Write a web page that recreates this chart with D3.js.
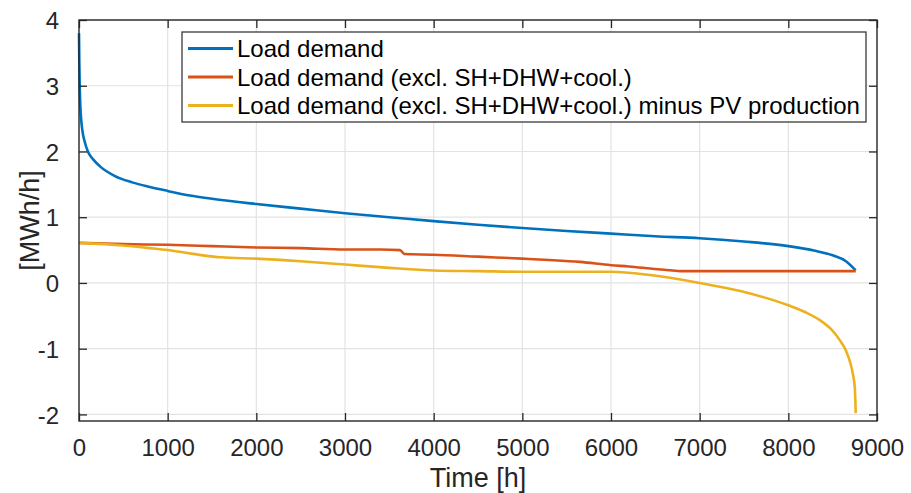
<!DOCTYPE html>
<html>
<head>
<meta charset="utf-8">
<script src="https://cdn.jsdelivr.net/npm/d3@7"></script>
<style>
  html, body { margin: 0; padding: 0; background: #fff; }
  svg { display: block; font-family: "Liberation Sans", Arial, Helvetica, sans-serif; }
</style>
</head>
<body>
<svg id="chart" width="911" height="493"></svg>
<script>
// Duration curves (sorted hourly values), MWh/h
const loadHours = [0, 3, 8, 15, 22, 40, 60, 100, 160, 240, 400, 600, 800, 1000, 1250, 1500, 2000, 2500, 3000, 3500, 4000, 4500, 5000, 5500, 6000, 6500, 7000, 7500, 8000, 8300, 8500, 8650, 8760];
const loadValues = [3.8, 3.4, 3.0, 2.7, 2.53, 2.3, 2.17, 2.0, 1.88, 1.77, 1.63, 1.53, 1.46, 1.40, 1.33, 1.28, 1.20, 1.13, 1.06, 1.00, 0.94, 0.885, 0.835, 0.79, 0.75, 0.71, 0.68, 0.63, 0.56, 0.49, 0.42, 0.33, 0.19];

const exclHours = [0, 500, 1000, 1500, 2000, 2500, 3000, 3400, 3620, 3670, 4000, 4500, 5000, 5300, 5650, 6000, 6200, 6440, 6600, 6780, 7000, 8000, 8760];
const exclValues = [0.61, 0.59, 0.58, 0.56, 0.54, 0.53, 0.51, 0.51, 0.50, 0.44, 0.43, 0.40, 0.37, 0.35, 0.32, 0.27, 0.25, 0.22, 0.20, 0.18, 0.18, 0.18, 0.18];

const netHours = [0, 500, 800, 1000, 1200, 1400, 1600, 2000, 2500, 3000, 3500, 4000, 4500, 5000, 5500, 6000, 6440, 7000, 7570, 8000, 8200, 8360, 8480, 8580, 8650, 8700, 8730, 8750, 8760];
const netValues = [0.61, 0.57, 0.53, 0.50, 0.46, 0.42, 0.39, 0.37, 0.33, 0.28, 0.23, 0.19, 0.18, 0.17, 0.17, 0.17, 0.12, 0.0, -0.16, -0.34, -0.45, -0.57, -0.70, -0.87, -1.03, -1.22, -1.40, -1.60, -1.98];

const seriesNames = ["Load demand", "Load demand (excl. SH+DHW+cool.)", "Load demand (excl. SH+DHW+cool.) minus PV production"];
const seriesColors = ["#0072BD", "#D95319", "#EDB120"];

const xTicks = [0, 1000, 2000, 3000, 4000, 5000, 6000, 7000, 8000, 9000];
const yTicks = [-2, -1, 0, 1, 2, 3, 4];
const xLabel = "Time [h]";
const yLabel = "[MWh/h]";

const series = [
  { name: seriesNames[0], color: seriesColors[0], pts: d3.zip(loadHours, loadValues) },
  { name: seriesNames[1], color: seriesColors[1], pts: d3.zip(exclHours, exclValues) },
  { name: seriesNames[2], color: seriesColors[2], pts: d3.zip(netHours, netValues) }
];

const svg = d3.select("#chart");
const plotL = 79, plotR = 877, plotT = 20, plotB = 421;

const x = d3.scaleLinear().domain([0, 9000]).range([plotL, plotR]);
const y = d3.scaleLinear().domain([-2.1, 4]).range([plotB, plotT]);

const axisColor = "#262626";
const tickLen = 8;
const plainNum = d => String(d);

// grid
const grid = svg.append("g");
grid.selectAll(".gx").data(xTicks.slice(1, -1)).join("line")
  .attr("x1", d => x(d)).attr("x2", d => x(d))
  .attr("y1", plotT).attr("y2", plotB)
  .attr("stroke", "#e3e3e3").attr("stroke-width", 1.2);
grid.selectAll(".gy").data(yTicks).join("line")
  .attr("x1", plotL).attr("x2", plotR)
  .attr("y1", d => y(d)).attr("y2", d => y(d))
  .attr("stroke", "#e3e3e3").attr("stroke-width", 1.2);

// data lines
const line = d3.line().x(d => x(d[0])).y(d => y(d[1])).curve(d3.curveMonotoneX);
svg.append("g").selectAll("path").data(series).join("path")
  .attr("d", d => line(d.pts))
  .attr("fill", "none")
  .attr("stroke", d => d.color)
  .attr("stroke-width", 2.6)
  .attr("stroke-linejoin", "round");

// axes (inward ticks on all four sides)
const axB = svg.append("g").attr("transform", `translate(0,${plotB})`)
  .call(d3.axisBottom(x).tickValues(xTicks).tickSizeInner(-tickLen).tickSizeOuter(0).tickPadding(18).tickFormat(plainNum));
const axT = svg.append("g").attr("transform", `translate(0,${plotT})`)
  .call(d3.axisTop(x).tickValues(xTicks).tickSizeInner(-tickLen).tickSizeOuter(0).tickFormat(""));
const axL = svg.append("g").attr("transform", `translate(${plotL},0)`)
  .call(d3.axisLeft(y).tickValues(yTicks).tickSizeInner(-tickLen).tickSizeOuter(0).tickPadding(20).tickFormat(plainNum));
const axR = svg.append("g").attr("transform", `translate(${plotR},0)`)
  .call(d3.axisRight(y).tickValues(yTicks).tickSizeInner(-tickLen).tickSizeOuter(0).tickFormat(""));

[axB, axT, axL, axR].forEach(g => {
  g.select(".domain").remove();
  g.selectAll(".tick line").attr("stroke", axisColor).attr("stroke-width", 1.3);
  g.selectAll(".tick text").attr("fill", axisColor).style("font-size", "24px")
    .style("font-family", "'Liberation Sans', Arial, Helvetica, sans-serif");
});
axB.selectAll(".tick text").attr("dy", "0.71em");
axL.selectAll(".tick text").attr("dy", "0.36em");

// box
svg.append("rect")
  .attr("x", plotL).attr("y", plotT)
  .attr("width", plotR - plotL).attr("height", plotB - plotT)
  .attr("fill", "none").attr("stroke", axisColor).attr("stroke-width", 1.4);

// axis labels
svg.append("text")
  .attr("x", (plotL + plotR) / 2).attr("y", 487)
  .attr("text-anchor", "middle")
  .attr("fill", axisColor)
  .style("font-size", "27px")
  .text(xLabel);
svg.append("text")
  .attr("transform", `translate(39,${(plotT + plotB) / 2}) rotate(-90)`)
  .attr("text-anchor", "middle")
  .attr("fill", axisColor)
  .style("font-size", "27px")
  .text(yLabel);

// legend
const lg = svg.append("g");
lg.append("rect")
  .attr("x", 182).attr("y", 32)
  .attr("width", 684).attr("height", 90)
  .attr("fill", "#fff").attr("stroke", "#3a3a3a").attr("stroke-width", 1.3);
const rowY = [48.5, 77, 105.5];
const items = lg.selectAll(".item").data(series).join("g")
  .attr("transform", (d, i) => `translate(0,${rowY[i]})`);
items.append("line")
  .attr("x1", 188).attr("x2", 233)
  .attr("stroke", d => d.color).attr("stroke-width", 3);
items.append("text")
  .attr("x", 237).attr("dy", "0.36em")
  .attr("fill", "#000")
  .style("font-size", "24px")
  .text(d => d.name);
</script>
</body>
</html>
